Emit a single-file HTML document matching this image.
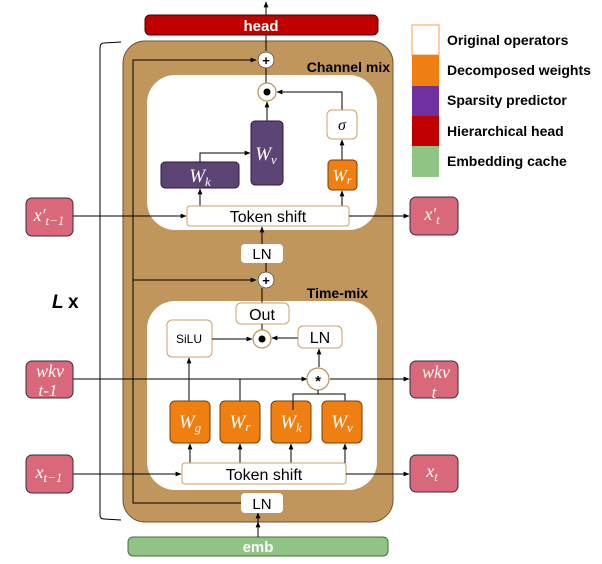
<!DOCTYPE html>
<html><head><meta charset="utf-8"><style>body{margin:0;background:#fff}svg{display:block}</style></head><body>
<svg width="602" height="564" viewBox="0 0 602 564" xmlns="http://www.w3.org/2000/svg" font-family="Liberation Sans, sans-serif">
<defs><marker id="a" viewBox="0 0 10 10" refX="9" refY="5" markerWidth="6" markerHeight="6" orient="auto"><path d="M0,1 L10,5 L0,9 z" fill="#000"/></marker></defs>
<path d="M121,42 L104,43 Q100,43 100,48 L100,515 Q100,519 104,519 L121,520" fill="none" stroke="#000" stroke-width="1"/>
<text x="52" y="308" font-size="19" font-weight="bold" font-style="italic">L</text><text x="68" y="308" font-size="19" font-weight="bold">x</text>
<rect x="123" y="41" width="270" height="481" rx="22" fill="#c0965c" stroke="#6b5430" stroke-width="1"/>
<rect x="147" y="75" width="230" height="155" rx="28" fill="#fff"/>
<rect x="147" y="301" width="230" height="189" rx="28" fill="#fff"/>
<text x="390" y="72" font-size="14" font-weight="bold" text-anchor="end">Channel mix</text>
<text x="368" y="298" font-size="14" font-weight="bold" text-anchor="end">Time-mix</text>
<rect x="145" y="15" width="233" height="20" rx="5" fill="#c00000" stroke="#400" stroke-width="1"/>
<text x="261" y="31" font-size="15" font-weight="bold" fill="#fff" text-anchor="middle">head</text>
<line x1="266" y1="15" x2="266" y2="2" stroke="#000" marker-end="url(#a)"/>
<line x1="266" y1="51" x2="266" y2="35" stroke="#000"/>
<rect x="128" y="537" width="260" height="19" rx="5" fill="#8fc485" stroke="#4a6a40"/>
<text x="258" y="552" font-size="15" font-weight="bold" fill="#fff" text-anchor="middle">emb</text>
<line x1="258" y1="537" x2="258" y2="522" stroke="#000" marker-end="url(#a)"/>
<line x1="258" y1="522" x2="258" y2="513" stroke="#000" marker-end="url(#a)"/>
<path d="M241,503 L133,503 L133,60 L256,60" fill="none" stroke="#000" marker-end="url(#a)"/>
<path d="M133,280 L256,280" fill="none" stroke="#000" marker-end="url(#a)"/>
<circle cx="266" cy="60" r="8" fill="#fff" stroke="#000" stroke-width="0.5"/><text x="266" y="65" font-size="13" font-weight="bold" text-anchor="middle">+</text>
<line x1="266" y1="83" x2="266" y2="68" stroke="#000"/>
<circle cx="267" cy="92" r="9" fill="#fff" stroke="#b8915a" stroke-width="1.2"/><circle cx="267" cy="92" r="3.5" fill="#000"/>
<line x1="267" y1="121" x2="267" y2="102" stroke="#000" marker-end="url(#a)"/>
<path d="M342,110 L342,92 L277,92" fill="none" stroke="#000" marker-end="url(#a)"/>
<rect x="251" y="121" width="32" height="64" rx="4" fill="#5c4474" stroke="#2a1a3a"/>
<text x="266" y="160" font-size="19" font-style="italic" fill="#fff" font-family="Liberation Serif, serif" text-anchor="middle">W<tspan font-size="13" dy="4">v</tspan></text>
<rect x="161" y="162" width="78" height="26" rx="4" fill="#5c4474" stroke="#2a1a3a"/>
<text x="200" y="182" font-size="19" font-style="italic" fill="#fff" font-family="Liberation Serif, serif" text-anchor="middle">W<tspan font-size="13" dy="4">k</tspan></text>
<path d="M200,162 L200,153 L250,153" fill="none" stroke="#000" marker-end="url(#a)"/>
<rect x="327" y="110" width="30" height="29" rx="5" fill="#fff" stroke="#c8a070"/>
<text x="342" y="130" font-size="16" font-style="italic" font-family="Liberation Serif, serif" text-anchor="middle">σ</text>
<line x1="342" y1="160" x2="342" y2="140" stroke="#000" marker-end="url(#a)"/>
<rect x="328" y="160" width="29" height="30" rx="4" fill="#ef7f10" stroke="#7a3e00"/>
<text x="342" y="181" font-size="17" font-style="italic" fill="#fff" font-family="Liberation Serif, serif" text-anchor="middle">W<tspan font-size="12" dy="3">r</tspan></text>
<line x1="200" y1="206" x2="200" y2="189" stroke="#000" marker-end="url(#a)"/>
<line x1="342" y1="206" x2="342" y2="191" stroke="#000" marker-end="url(#a)"/>
<rect x="187" y="206" width="162" height="20" rx="3" fill="#fff" stroke="#c8a070"/>
<text x="268" y="222" font-size="16" text-anchor="middle">Token shift</text>
<line x1="73" y1="216" x2="186" y2="216" stroke="#000" marker-end="url(#a)"/>
<line x1="349" y1="216" x2="409" y2="216" stroke="#000" marker-end="url(#a)"/>
<line x1="262" y1="244" x2="262" y2="227" stroke="#000" marker-end="url(#a)"/>
<rect x="241" y="244" width="42" height="19" rx="4" fill="#fff"/>
<text x="262" y="259" font-size="15" text-anchor="middle">LN</text>
<line x1="266" y1="272" x2="266" y2="263" stroke="#000"/>
<circle cx="266" cy="280" r="8" fill="#fff" stroke="#000" stroke-width="0.5"/><text x="266" y="285" font-size="13" font-weight="bold" text-anchor="middle">+</text>
<line x1="262" y1="303" x2="262" y2="288" stroke="#000"/>
<rect x="236" y="303" width="53" height="21" rx="5" fill="#fff" stroke="#c8a070"/>
<text x="262" y="320" font-size="16" text-anchor="middle">Out</text>
<line x1="262" y1="330" x2="262" y2="324" stroke="#000"/>
<rect x="167" y="320" width="45" height="37" rx="5" fill="#fff" stroke="#c8a070"/>
<text x="189" y="343" font-size="12" text-anchor="middle">SiLU</text>
<circle cx="262" cy="339" r="9" fill="#fff" stroke="#b8915a" stroke-width="1.2"/><circle cx="262" cy="339" r="3.5" fill="#000"/>
<line x1="212" y1="339" x2="252" y2="339" stroke="#000" marker-end="url(#a)"/>
<line x1="298" y1="338" x2="272" y2="338" stroke="#000" marker-end="url(#a)"/>
<rect x="298" y="326" width="44" height="22" rx="5" fill="#fff" stroke="#c8a070"/>
<text x="320" y="343" font-size="16" text-anchor="middle">LN</text>
<line x1="319" y1="367" x2="319" y2="349" stroke="#000" marker-end="url(#a)"/>
<line x1="73" y1="379" x2="307" y2="379" stroke="#000" marker-end="url(#a)"/>
<line x1="330" y1="379" x2="409" y2="379" stroke="#000" marker-end="url(#a)"/>
<circle cx="318" cy="379" r="11" fill="#fff" stroke="#b8915a" stroke-width="1.2"/>
<text x="318" y="386" font-size="15" font-weight="bold" text-anchor="middle">*</text>
<line x1="189" y1="401" x2="189" y2="358" stroke="#000" marker-end="url(#a)"/>
<line x1="240" y1="401" x2="240" y2="379" stroke="#000"/>
<path d="M293,410 L293,394 L345,394 L345,410 M318,394 L318,390" fill="none" stroke="#000"/>
<g font-family="Liberation Serif, serif" font-style="italic" fill="#fff" font-size="19" text-anchor="middle">
<rect x="170" y="401" width="40" height="42" rx="5" fill="#ef7f10" stroke="#7a3e00"/><text x="190" y="428">W<tspan font-size="13" dy="4">g</tspan></text>
<rect x="220" y="401" width="40" height="42" rx="5" fill="#ef7f10" stroke="#7a3e00"/><text x="240" y="428">W<tspan font-size="13" dy="3">r</tspan></text>
<rect x="271" y="401" width="40" height="42" rx="5" fill="#ef7f10" stroke="#7a3e00"/><text x="291" y="428">W<tspan font-size="13" dy="4">k</tspan></text>
<rect x="322" y="401" width="40" height="42" rx="5" fill="#ef7f10" stroke="#7a3e00"/><text x="342" y="428">W<tspan font-size="13" dy="4">v</tspan></text>
</g>
<line x1="293" y1="401" x2="293" y2="410" stroke="#000"/>
<g stroke="#000"><line x1="190" y1="463" x2="190" y2="444" marker-end="url(#a)"/><line x1="240" y1="463" x2="240" y2="444" marker-end="url(#a)"/><line x1="291" y1="463" x2="291" y2="444" marker-end="url(#a)"/><line x1="345" y1="463" x2="345" y2="444" marker-end="url(#a)"/></g>
<rect x="182" y="463" width="164" height="21" rx="3" fill="#fff" stroke="#c8a070"/>
<text x="264" y="480" font-size="16" text-anchor="middle">Token shift</text>
<line x1="73" y1="474" x2="181" y2="474" stroke="#000" marker-end="url(#a)"/>
<line x1="346" y1="474" x2="409" y2="474" stroke="#000" marker-end="url(#a)"/>
<rect x="241" y="493" width="42" height="20" rx="4" fill="#fff"/>
<text x="262" y="509" font-size="15" text-anchor="middle">LN</text>
<g fill="#d9697a" stroke="#3a2a3a" stroke-width="1">
<rect x="26" y="198" width="47" height="38" rx="6"/><rect x="26" y="361" width="47" height="37" rx="6"/><rect x="26" y="455" width="47" height="38" rx="6"/>
<rect x="410" y="197" width="48" height="38" rx="6"/><rect x="410" y="361" width="48" height="37" rx="6"/><rect x="410" y="455" width="48" height="37" rx="6"/>
</g>
<g font-family="Liberation Serif, serif" font-style="italic" fill="#fff" font-size="18" text-anchor="middle">
<text x="49" y="221">x′<tspan font-size="13" dy="4">t−1</tspan></text>
<text x="50" y="377">wkv</text><text x="48" y="396" font-size="17">t-1</text>
<text x="49" y="478">x<tspan font-size="13" dy="4">t−1</tspan></text>
<text x="432" y="220">x′<tspan font-size="13" dy="4">t</tspan></text>
<text x="436" y="378">wkv</text><text x="434" y="398" font-size="17">t</text>
<text x="432" y="477">x<tspan font-size="13" dy="4">t</tspan></text>
</g>
<rect x="412" y="25" width="27" height="30" fill="#fff" stroke="#f5a050"/>
<rect x="412" y="55" width="27" height="31" fill="#ef7f10"/>
<rect x="412" y="86" width="27" height="30" fill="#7030a0"/>
<rect x="412" y="116" width="27" height="30" fill="#c00000"/>
<rect x="412" y="146" width="27" height="31" fill="#8fc485"/>
<g font-size="14" font-weight="bold">
<text x="447" y="45">Original operators</text>
<text x="447" y="75">Decomposed weights</text>
<text x="447" y="105">Sparsity predictor</text>
<text x="447" y="136">Hierarchical head</text>
<text x="447" y="166">Embedding cache</text>
</g>
</svg>
</body></html>
